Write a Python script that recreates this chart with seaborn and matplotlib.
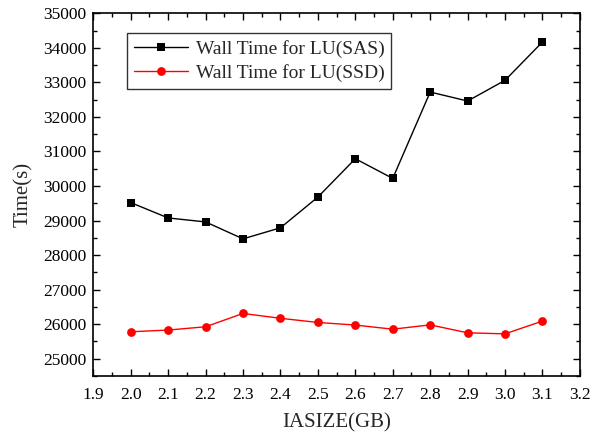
import numpy as np
import pandas as pd
import matplotlib
matplotlib.use("Agg")
import matplotlib.pyplot as plt
import seaborn as sns
from matplotlib.ticker import MultipleLocator

iasize = [2.0, 2.1, 2.2, 2.3, 2.4, 2.5, 2.6, 2.7, 2.8, 2.9, 3.0, 3.1]
sas = [29520, 29075, 28960, 28470, 28790, 29680, 30790, 30220, 32720, 32460, 33060, 34170]
ssd = [25780, 25830, 25925, 26310, 26170, 26050, 25975, 25855, 25980, 25750, 25720, 26090]
series_names = ["Wall Time for LU(SAS)", "Wall Time for LU(SSD)"]

df = pd.DataFrame({
    "x": iasize * 2,
    "y": sas + ssd,
    "series": [series_names[0]] * len(sas) + [series_names[1]] * len(ssd),
})

sns.set_theme(style="ticks")
plt.rcParams["font.family"] = ["Liberation Serif", "DejaVu Serif"]
plt.rcParams["mathtext.fontset"] = "stix"

fig = plt.figure(figsize=(6, 4.37), dpi=100)
ax = fig.add_axes([0.1555, 0.1396, 0.811, 0.830])

sns.lineplot(data=df, x="x", y="y", hue="series", style="series",
             palette=["black", "red"], markers=["s", "o"], dashes=False,
             markersize=6.3, linewidth=1, markeredgewidth=0, ax=ax)

ax.set_xlim(1.9, 3.2)
ax.set_ylim(24500, 35000)
ax.xaxis.set_major_locator(MultipleLocator(0.1))
ax.xaxis.set_minor_locator(MultipleLocator(0.05))
ax.yaxis.set_major_locator(MultipleLocator(1000))
ax.yaxis.set_minor_locator(MultipleLocator(500))
ax.xaxis.set_major_formatter(matplotlib.ticker.FormatStrFormatter("%.1f"))
ax.tick_params(which="both", direction="in", top=True, right=True,
               labeltop=False, labelright=False, width=1, labelsize=12.5, colors="black")
ax.tick_params(which="major", length=5)
ax.tick_params(which="minor", length=3)
ax.tick_params(axis="x", which="major", pad=8)
ax.tick_params(axis="y", which="major", pad=5)
for s in ax.spines.values():
    s.set_linewidth(1.2)
    s.set_color("black")

ax.set_xlabel("IASIZE(GB)", fontsize=15, labelpad=7)
ax.set_ylabel("Time(s)", fontsize=15, labelpad=7)

leg = ax.legend(loc="upper left", bbox_to_anchor=(0.069, 0.946), borderaxespad=0,
                fontsize=14, frameon=True, fancybox=False, edgecolor="black",
                handlelength=2.8, borderpad=0.35, labelspacing=0.35, handletextpad=0.4)
leg.get_frame().set_linewidth(1)

fig.savefig("out.png", dpi=100)
